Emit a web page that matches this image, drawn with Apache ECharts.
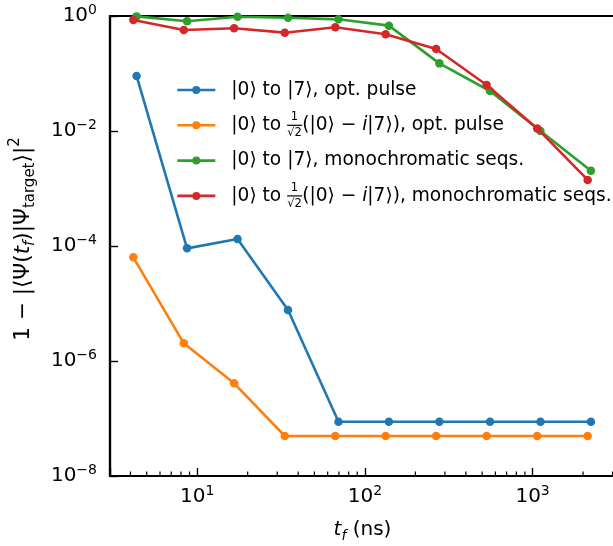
<!DOCTYPE html>
<html>
<head>
<meta charset="utf-8">
<script src="https://cdn.jsdelivr.net/npm/echarts@6/dist/echarts.min.js"></script>
<style>
  html, body { margin: 0; padding: 0; background: #fff; }
  #chart { width: 613px; height: 546px; }
</style>
</head>
<body>
<div id="chart"></div>
<script>
const FONT = 'DejaVu Sans';

// final times (ns), |7> targets and superposition targets
const tfSeven = [4.35, 8.7, 17.4, 34.8, 69.6, 139, 278, 557, 1114, 2227];
const tfSuper = [4.16, 8.32, 16.6, 33.3, 66.6, 133, 266, 532, 1065, 2130];

// infidelity values
const optSeven = [0.0908, 9.1e-5, 1.32e-4, 7.7e-6, 8.8e-8, 8.8e-8, 8.8e-8, 8.8e-8, 8.8e-8, 8.8e-8];
const optSuper = [6.36e-5, 2.03e-6, 4.09e-7, 4.96e-8, 4.96e-8, 4.96e-8, 4.96e-8, 4.96e-8, 4.96e-8, 4.96e-8];
const monoSeven = [0.985, 0.81, 0.97, 0.93, 0.875, 0.68, 0.150, 0.0496, 0.0100, 0.00204];
const monoSuper = [0.852, 0.571, 0.611, 0.513, 0.636, 0.48, 0.267, 0.063, 0.0111, 0.00141];

// minor ticks of the log x axis
const xMinorTicks = [4, 5, 6, 7, 8, 9, 20, 30, 40, 50, 60, 70, 80, 90,
  200, 300, 400, 500, 600, 700, 800, 900, 2000, 3000];

const seriesNames = [
  '|0⟩ to |7⟩, opt. pulse',
  '|0⟩ to 1/√2(|0⟩ − i|7⟩), opt. pulse',
  '|0⟩ to |7⟩, monochromatic seqs.',
  '|0⟩ to 1/√2(|0⟩ − i|7⟩), monochromatic seqs.'
];
const colors = ['#1f77b4', '#ff7f0e', '#2ca02c', '#d62728'];

const X_MIN = 3.02, X_MAX = 3100, Y_MIN = 1e-8, Y_MAX = 1;

// stacked 1/sqrt(2): zero-width numerator and denominator over a bar token
const frac = '{dn|√2}{nm| 1}{bar| }';
const legendText = {
  [seriesNames[0]]: '|0⟩ to |7⟩, opt. pulse',
  [seriesNames[1]]: '|0⟩ to ' + frac + '(|0⟩ − {i|i}|7⟩), opt. pulse',
  [seriesNames[2]]: '|0⟩ to |7⟩, monochromatic seqs.',
  [seriesNames[3]]: '|0⟩ to ' + frac + '(|0⟩ − {i|i}|7⟩), monochromatic seqs.'
};

function pow10Label(v) {
  const e = Math.log10(v);
  const r = Math.round(e);
  if (Math.abs(e - r) > 1e-6) return '';
  return '10{s|' + (r < 0 ? '−' + (-r) : r) + '}';
}

function zip(xs, ys) {
  return xs.map((x, i) => [x, ys[i]]);
}

const tickRich = {
  s: { fontFamily: FONT, fontSize: 14, color: '#000', verticalAlign: 'top', lineHeight: 26 }
};

const chart = echarts.init(document.getElementById('chart'));

const lineSeries = [
  [tfSeven, optSeven],
  [tfSuper, optSuper],
  [tfSeven, monoSeven],
  [tfSuper, monoSuper]
].map(([xs, ys], i) => ({
  name: seriesNames[i],
  type: 'line',
  data: zip(xs, ys),
  symbol: 'circle',
  symbolSize: 8.5,
  showSymbol: true,
  lineStyle: { color: colors[i], width: 2.6 },
  itemStyle: { color: colors[i] },
  z: 3 + i
}));

const option = {
  animation: false,
  backgroundColor: '#fff',
  grid: {
    left: 110, top: 16, width: 505, bottom: 70,
    outerBoundsMode: 'none',
    containLabel: false,
    show: true, borderColor: '#000', borderWidth: 2.2, backgroundColor: 'transparent'
  },
  legend: {
    orient: 'vertical',
    left: 171,
    top: 71,
    itemWidth: 38,
    itemHeight: 10,
    itemGap: 7.3,
    data: seriesNames,
    formatter: (n) => legendText[n],
    lineStyle: { width: 2.6 },
    textStyle: {
      fontFamily: FONT, fontSize: 18.6, color: '#000', lineHeight: 28,
      padding: [0, 0, 0, 11],
      rich: {
        i: { fontFamily: FONT, fontSize: 18.6, fontStyle: 'italic', color: '#000' },
        dn: { fontFamily: FONT, fontSize: 11.5, color: '#000', verticalAlign: 'bottom', width: 0 },
        nm: { fontFamily: FONT, fontSize: 11.5, color: '#000', verticalAlign: 'top', width: 0 },
        bar: { fontFamily: FONT, fontSize: 11.5, color: '#000', width: 15, height: 1.2, backgroundColor: '#000' }
      }
    }
  },
  xAxis: {
    type: 'log',
    logBase: 10,
    min: X_MIN,
    max: X_MAX,
    name: '{it|t}{fs|f} (ns)',
    nameLocation: 'middle',
    nameGap: 41,
    nameTextStyle: {
      fontFamily: FONT, fontSize: 20, color: '#000', lineHeight: 26,
      rich: {
        it: { fontFamily: FONT, fontSize: 20, fontStyle: 'italic', color: '#000' },
        fs: { fontFamily: FONT, fontSize: 14, fontStyle: 'italic', color: '#000', verticalAlign: 'bottom' }
      }
    },
    axisLine: { lineStyle: { color: '#000', width: 2.2 } },
    axisTick: { inside: true, length: 8, lineStyle: { color: '#000', width: 1.4 } },
    axisLabel: {
      fontFamily: FONT, fontSize: 20, color: '#000', margin: 8, lineHeight: 26,
      formatter: pow10Label, rich: tickRich
    },
    splitLine: { show: false }
  },
  yAxis: {
    type: 'log',
    logBase: 100,
    min: Y_MIN,
    max: Y_MAX,
    name: '1 − |⟨Ψ({it|t}{fs|f})|Ψ{sub|target}⟩|{sup|2}',
    nameLocation: 'middle',
    nameRotate: 90,
    nameGap: 72,
    nameTextStyle: {
      fontFamily: FONT, fontSize: 21.5, color: '#000', lineHeight: 30,
      padding: [0, 0, 0, 14],
      rich: {
        it: { fontFamily: FONT, fontSize: 21.5, fontStyle: 'italic', color: '#000', lineHeight: 30 },
        fs: { fontFamily: FONT, fontSize: 15, fontStyle: 'italic', color: '#000', verticalAlign: 'bottom', lineHeight: 30 },
        sub: { fontFamily: FONT, fontSize: 15, color: '#000', verticalAlign: 'bottom', lineHeight: 30 },
        sup: { fontFamily: FONT, fontSize: 15, color: '#000', verticalAlign: 'top', lineHeight: 30 }
      }
    },
    axisLine: { lineStyle: { color: '#000', width: 2.2 } },
    axisTick: { inside: true, length: 8, lineStyle: { color: '#000', width: 1.4 } },
    axisLabel: {
      fontFamily: FONT, fontSize: 20, color: '#000', margin: 13, lineHeight: 26,
      formatter: pow10Label, rich: tickRich
    },
    splitLine: { show: false }
  },
  series: lineSeries.concat([{
    name: 'minorTicks',
    type: 'custom',
    silent: true,
    clip: false,
    z: 10,
    data: xMinorTicks.map((v) => [v, Y_MIN]),
    renderItem: (params, api) => {
      const p = api.coord([api.value(0), api.value(1)]);
      return {
        type: 'line',
        shape: { x1: p[0], y1: p[1], x2: p[0], y2: p[1] - 4.5 },
        style: { stroke: '#000', lineWidth: 1.2 }
      };
    }
  }])
};

chart.setOption(option);
</script>
</body>
</html>
